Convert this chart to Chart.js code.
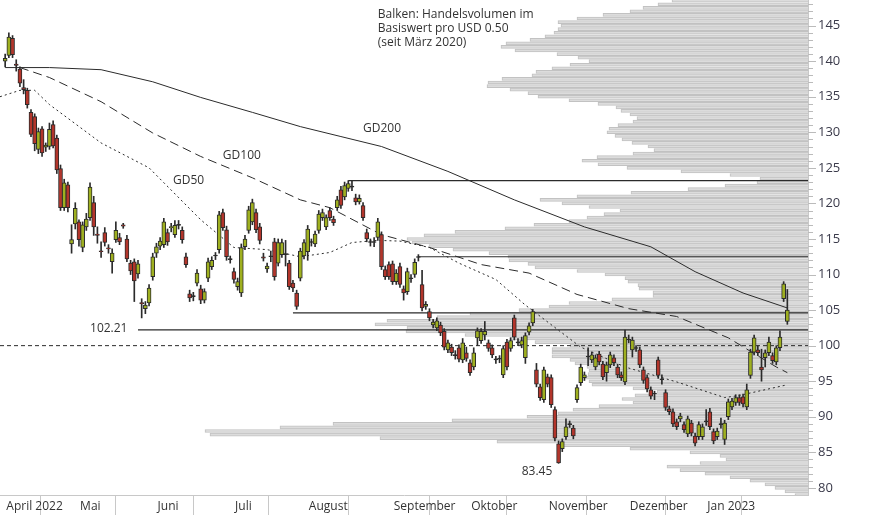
<!DOCTYPE html>
<html>
<head>
<meta charset="utf-8">
<script src="https://cdn.jsdelivr.net/npm/chart.js@4.4.0/dist/chart.umd.min.js"></script>
<style>
  html, body { margin: 0; padding: 0; background: #fff; }
  #wrap { width: 874px; height: 515px; }
</style>
</head>
<body>
<div id="wrap"><canvas id="chart" width="874" height="515"></canvas></div>
<script>
// daily candles, index = trading day since 1 April 2022
var open  = [140.0,140.8,143.2,139.6,138.9,136.3,135.9,132.8,132.2,127.6,130.5,127.9,128.0,131.1,129.2,124.9,119.4,122.6,114.3,117.1,117.4,113.8,116.7,118.0,120.1,115.7,113.3,115.9,113.7,111.8,114.9,115.2,117.0,115.0,111.6,111.8,110.1,106.0,105.2,106.0,109.7,113.0,114.0,114.2,115.9,116.6,115.6,116.9,116.2,112.5,107.3,106.9,108.8,108.0,106.4,109.5,111.1,112.6,113.5,118.7,116.3,112.1,110.4,108.3,107.4,113.9,116.2,117.4,118.7,116.7,112.5,110.8,112.5,114.6,111.6,112.8,112.8,111.6,108.8,107.4,109.5,112.6,113.2,114.5,114.3,116.2,118.0,116.7,119.0,117.8,119.4,121.9,120.9,122.1,122.3,120.8,120.2,119.7,115.9,114.5,114.5,115.2,115.6,110.7,111.4,111.5,109.0,111.1,108.0,107.6,109.4,110.0,112.4,108.6,105.5,104.8,102.9,102.5,102.9,102.0,99.4,99.8,98.6,99.7,98.0,99.0,97.6,97.0,101.1,100.7,101.5,100.4,99.7,98.0,98.1,95.9,100.5,99.6,103.9,100.4,100.1,98.3,101.9,103.2,96.6,94.2,92.4,95.6,95.5,91.0,86.2,85.5,87.2,88.9,88.4,92.4,94.8,95.5,98.4,98.0,97.0,98.8,97.4,96.2,97.3,98.3,97.0,95.9,94.9,100.8,99.4,99.6,99.4,96.6,95.5,93.8,93.2,98.0,95.2,93.4,91.1,90.7,89.3,89.7,88.9,87.6,89.1,87.3,87.2,87.2,89.3,90.7,87.9,87.2,88.9,86.8,90.0,91.4,92.0,92.7,92.8,91.4,95.8,99.1,99.4,97.0,98.3,99.0,98.6,97.7,99.7,106.6,103.4];
var high  = [141.0,144.0,143.6,140.2,139.2,137.4,136.2,133.2,132.6,130.6,130.8,128.5,131.3,131.6,129.6,125.4,123.4,123.0,117.0,120.1,117.7,117.4,118.6,122.9,121.0,116.7,114.6,116.6,114.2,113.6,117.4,115.8,117.2,115.5,112.0,112.2,112.0,106.6,106.2,108.6,113.0,114.4,115.2,117.9,116.4,117.2,117.6,117.6,116.7,113.0,107.8,107.5,110.7,108.5,108.0,112.3,112.5,113.1,118.9,119.2,116.8,112.6,110.9,109.5,114.3,115.5,119.6,120.6,119.2,117.2,113.0,111.6,113.3,115.1,115.0,115.0,114.8,112.0,109.2,107.8,113.7,114.9,116.9,115.0,116.1,119.0,119.2,118.4,119.4,118.2,121.0,122.4,123.0,123.2,123.2,121.3,121.2,120.1,116.4,115.0,115.2,117.9,116.0,111.2,111.8,111.9,110.7,111.6,108.4,110.9,110.0,112.2,112.8,110.6,106.2,105.2,103.7,103.9,103.3,102.4,100.8,100.2,99.3,100.1,101.0,99.8,98.0,99.7,102.5,102.4,103.4,100.8,100.1,98.5,98.6,100.0,100.9,101.1,104.3,101.0,101.2,101.8,103.2,105.1,97.5,94.6,97.0,96.0,95.9,91.4,86.6,86.9,89.7,89.4,88.8,94.5,97.4,96.3,99.7,99.1,98.7,99.2,97.8,97.7,99.1,98.7,97.4,96.3,102.2,101.5,101.2,100.0,99.8,97.0,95.9,94.2,93.6,98.4,95.9,93.8,91.5,91.1,89.7,90.5,89.3,90.1,89.5,87.7,89.3,89.0,91.0,91.2,88.3,88.4,89.8,89.5,92.5,92.6,93.1,93.1,93.2,94.6,99.5,101.5,100.0,99.5,99.4,101.2,99.0,100.0,102.1,109.0,107.9];
var low   = [139.2,140.5,140.5,138.6,136.4,135.4,133.4,129.4,127.4,127.0,126.6,127.3,127.6,127.8,124.2,119.0,119.0,118.8,113.0,116.4,114.0,113.2,116.2,117.6,115.5,114.4,112.4,114.0,113.0,110.2,114.5,114.2,116.5,111.8,110.0,106.2,109.5,103.9,104.5,105.6,109.2,112.4,113.5,113.8,114.1,116.0,115.2,116.4,114.4,111.0,106.2,106.3,108.4,105.9,106.0,109.0,110.7,112.1,113.0,116.2,112.0,111.6,108.8,107.8,106.9,113.5,115.8,117.0,115.9,114.3,111.9,110.3,111.8,109.2,111.2,112.4,111.2,107.9,107.6,105.1,109.1,112.2,112.0,114.0,113.9,115.8,117.6,116.3,117.6,116.9,119.0,119.3,120.5,121.7,121.8,119.8,119.9,117.6,114.6,114.0,113.9,114.8,110.7,109.3,109.3,108.6,108.6,108.2,106.4,107.2,108.9,109.6,111.9,104.9,105.1,103.5,102.5,102.1,101.4,99.4,99.0,98.6,98.1,97.7,97.6,97.8,95.8,96.6,100.0,100.3,100.8,99.2,98.3,97.5,97.6,95.5,96.6,99.2,100.8,100.0,99.7,97.5,101.5,102.8,94.2,92.3,92.0,94.2,91.3,86.6,83.45,85.1,86.8,88.5,86.9,92.0,94.4,95.1,97.2,97.6,96.6,97.3,95.2,95.0,96.9,97.2,95.5,95.1,94.5,100.4,98.4,99.2,96.9,94.7,93.5,92.5,92.4,95.4,94.6,90.9,90.3,88.6,88.2,89.3,87.8,87.2,87.3,85.9,86.8,86.8,88.8,88.2,86.2,86.8,88.4,86.1,89.6,91.0,91.6,91.6,91.4,91.0,95.4,98.7,98.6,95.0,97.0,98.6,97.5,97.3,99.3,106.2,103.0];
var close = [140.4,143.4,140.9,139.4,136.9,136.0,133.9,129.7,128.4,130.1,127.1,128.2,130.4,128.1,124.7,119.4,122.9,119.4,114.9,119.3,114.9,117.0,117.8,122.3,116.7,115.5,113.2,114.5,113.6,113.0,116.2,114.6,116.8,112.2,110.5,109.1,111.5,105.9,105.7,108.1,112.5,113.9,114.7,117.4,114.6,116.7,116.9,116.9,114.9,111.4,106.7,106.9,110.2,106.4,107.6,111.8,112.0,112.6,118.4,116.6,112.5,112.1,109.3,109.0,113.8,115.0,119.1,120.1,116.3,114.8,112.3,111.2,112.5,109.7,114.5,114.5,112.8,108.3,108.1,105.5,113.3,114.5,116.4,114.5,115.7,118.5,118.7,118.0,118.0,117.3,120.5,119.7,122.5,122.8,122.3,120.2,120.7,118.0,115.0,114.5,114.5,117.4,111.1,109.7,109.7,109.0,110.2,108.6,107.4,110.4,109.4,111.7,112.4,105.3,105.8,103.9,103.3,103.5,101.8,99.8,100.4,99.0,98.6,98.1,100.4,98.2,96.2,99.0,102.1,102.0,102.0,99.6,98.7,98.0,98.1,99.6,97.0,100.7,101.2,100.4,100.7,101.4,102.8,104.8,94.6,92.7,96.6,94.6,91.7,87.0,83.5,86.5,88.6,88.9,87.3,94.1,97.0,95.9,98.4,98.7,98.3,97.7,95.6,97.3,98.7,97.6,95.9,95.5,101.2,100.8,100.8,99.6,97.3,95.1,93.9,92.9,93.2,95.8,95.2,91.3,90.7,89.0,88.6,90.1,88.2,89.7,87.7,86.3,88.9,88.6,89.3,88.6,86.6,88.0,88.9,89.1,92.1,92.2,92.7,92.0,91.8,93.8,99.1,101.1,99.0,96.6,99.0,100.5,97.9,99.7,101.2,108.7,105.0];

var gd200Days = [0,12,26,40,53,67,80,91,102,120,138,157,175,187,200,212];
var gd200     = [139.1,139.1,138.8,137.1,134.9,132.8,130.8,129.4,128.0,124.5,120.5,116.7,113.9,110.4,107.4,105.3];
var gd100Days = [4,12,26,40,53,67,80,88,102,115,129,142,155,169,182,196,209,212];
var gd100     = [139.1,137.7,134.3,129.9,126.6,123.6,120.5,119.4,115.6,113.8,111.4,110.2,107.2,105.2,104.1,101.1,97.0,96.2];
var gd50Days  = [-1.4,4,8,12,26,39,53,62,71,80,88,94,101,107,115,123,133,141,156,168,182,195,199,212];
var gd50      = [135.0,135.9,135.9,133.9,128.5,125.0,117.7,113.8,113.5,112.5,113.1,114.5,114.8,114.7,113.8,111.6,109.3,105.7,99.8,97.0,94.9,92.7,93.0,94.5];

// volume profile, USD 0.50 buckets from 148.5 down to 79
var volTop = 148.5;
var volume = [136,150,165,178,205,231,250,247,250,254,263,278,302,307,293,251,230,219,238,256,272,276,306,320,321,298,280,270,239,210,192,187,178,171,175,190,199,201,193,186,176,160,154,175,211,226,210,181,127,78,48,51,83,120,177,231,268,246,219,188,204,221,239,274,303,353,384,401,396,379,355,319,300,
              299,280,273,231,203,183,180,170,169,155,155,196,239,259,289,338,371,421,433,401,402,343,298,273,238,256,256,256,238,233,
              221,219,220,223,219,216,175,151,173,186,175,209,235,250,281,356,475,528,603,598,428,311,248,178,118,88,82,108,141,128,103,78,58,43,33,23,13];

// support / resistance levels (start day, price)
var levelDays   = [93, 112, 78, 36];
var levelPrices = [123.2, 112.5, 104.6, 102.21];

var monthDays   = [-0.5,19.5,40.5,61.5,81.5,104.5,125.5,146.5,168.5,189.5,209.5];
var monthLabels = ['April 2022','Mai','Juni','Juli','August','September','Oktober','November','Dezember','Jan 2023',''];
var yTicks = [80,85,90,95,100,105,110,115,120,125,130,135,140,145];

var xMin = -1.4, xMax = 217.6, yMin = 79.0, yMax = 148.6;
var GREEN = '#9fb020', RED = '#b3352b', INK = '#2b2b2b';
var FONT = '"Open Sans", "Noto Sans", sans-serif';

var bodies = [], wicks = [], bodyColors = [];
for (var i = 0; i < close.length; i++) {
  bodies.push({x: i, y: [open[i], close[i]]});
  wicks.push({x: i, y: [low[i], high[i]]});
  bodyColors.push(close[i] > open[i] ? GREEN : (close[i] < open[i] ? RED : INK));
}
var volData = volume.map(function(v, k) { return {x: v, y: volTop - 0.5 * k}; });

function pts(days, vals) {
  return days.map(function(d, k) { return {x: d, y: vals[k]}; });
}
function lineSet(data, dash) {
  return {type: 'line', data: data, borderColor: INK, borderWidth: 1, borderDash: dash || [],
          pointRadius: 0, fill: false, tension: 0, xAxisID: 'x', yAxisID: 'y', order: 4};
}

var datasets = [
  {type: 'bar', indexAxis: 'y', data: volData, xAxisID: 'xv', yAxisID: 'y',
   backgroundColor: '#dcdcdc', borderColor: '#c2c2c2', borderWidth: 1,
   barThickness: 3, grouped: false, order: 10},
  {type: 'bar', data: wicks, xAxisID: 'x', yAxisID: 'y', backgroundColor: INK,
   barThickness: 1, grouped: false, order: 2},
  {type: 'bar', data: bodies, xAxisID: 'x', yAxisID: 'y', backgroundColor: bodyColors,
   borderColor: INK, borderWidth: 1, borderSkipped: false, barThickness: 4, minBarLength: 1,
   grouped: false, order: 1},
  lineSet(pts(gd200Days, gd200)),
  lineSet(pts(gd100Days, gd100), [9, 5]),
  lineSet(pts(gd50Days, gd50), [2, 3]),
  lineSet([{x: xMin, y: 100}, {x: xMax, y: 100}], [4, 3])
];
for (var j = 0; j < levelDays.length; j++) {
  var s = lineSet([{x: levelDays[j], y: levelPrices[j]}, {x: xMax, y: levelPrices[j]}]);
  s.borderWidth = 1.2;
  datasets.push(s);
}

var textPlugin = {
  id: 'texts',
  afterDraw: function(chart) {
    var c = chart.ctx, x = chart.scales.x, y = chart.scales.y;
    c.save();
    c.fillStyle = '#333';
    c.font = '12px ' + FONT;
    c.textBaseline = 'middle';
    c.fillText('GD200', x.getPixelForValue(97), y.getPixelForValue(130.5));
    c.fillText('GD100', x.getPixelForValue(59), y.getPixelForValue(126.7));
    c.fillText('GD50', x.getPixelForValue(45.5), y.getPixelForValue(123.2));
    c.fillText('102.21', x.getPixelForValue(23), y.getPixelForValue(102.4));
    c.fillText('83.45', x.getPixelForValue(140), y.getPixelForValue(82.3));
    var bx = x.getPixelForValue(101), by = y.getPixelForValue(146.5);
    c.fillText('Balken: Handelsvolumen im', bx, by);
    c.fillText('Basiswert pro USD 0.50', bx, by + 14);
    c.fillText('(seit März 2020)', bx, by + 28);
    // minor ticks on the price axis
    c.strokeStyle = '#bbb';
    c.lineWidth = 1;
    for (var v = 80; v <= 148; v++) {
      var py = Math.round(y.getPixelForValue(v)) + 0.5;
      c.beginPath();
      c.moveTo(y.left, py);
      c.lineTo(y.left + (v % 5 === 0 ? 8 : 5), py);
      c.stroke();
    }
    c.restore();
  }
};

new Chart(document.getElementById('chart'), {
  data: {datasets: datasets},
  options: {
    responsive: false,
    animation: false,
    layout: {padding: 0},
    plugins: {legend: {display: false}, tooltip: {enabled: false}},
    scales: {
      x: {
        type: 'linear', min: xMin, max: xMax, offset: false,
        afterBuildTicks: function(axis) { axis.ticks = monthDays.map(function(d) { return {value: d}; }); },
        afterFit: function(axis) { axis.height = 20; axis.paddingLeft = 0; axis.paddingRight = 0; },
        ticks: {
          autoSkip: false, maxRotation: 0, align: 'start', labelOffset: 3, padding: -16,
          color: '#333', font: {family: FONT, size: 12},
          callback: function(v, idx) { return monthLabels[idx]; }
        },
        grid: {drawOnChartArea: false, tickLength: 20, color: '#c8c8c8'},
        border: {color: '#c8c8c8'}
      },
      xv: {type: 'linear', display: false, reverse: true, min: 0, max: 808, offset: false},
      y: {
        type: 'linear', position: 'right', min: yMin, max: yMax, offset: false,
        afterBuildTicks: function(axis) { axis.ticks = yTicks.map(function(v) { return {value: v}; }); },
        afterFit: function(axis) { axis.width = 66; axis.paddingTop = 0; axis.paddingBottom = 0; },
        ticks: {color: '#3a3a4a', padding: 10, font: {family: FONT, size: 13}},
        grid: {drawOnChartArea: false, drawTicks: false},
        border: {color: '#c8c8c8'}
      }
    }
  },
  plugins: [textPlugin]
});
</script>
</body>
</html>
